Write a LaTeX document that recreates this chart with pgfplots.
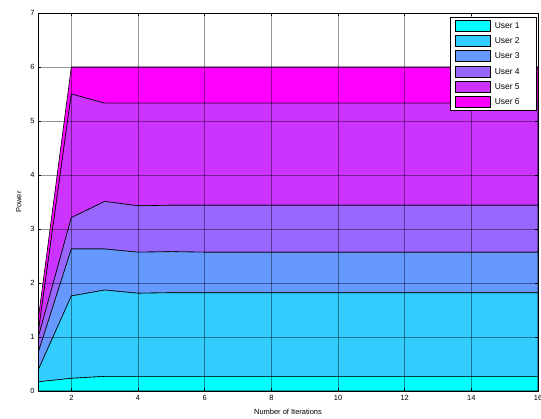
\documentclass[border=0pt]{standalone}
\usepackage{fontspec}
\setmainfont{Liberation Sans}
\usepackage{pgfplots}
\usepackage{pgfplotstable}
\pgfplotsset{compat=1.18}

\definecolor{u1}{RGB}{0,255,255}
\definecolor{u2}{RGB}{51,204,255}
\definecolor{u3}{RGB}{102,153,255}
\definecolor{u4}{RGB}{153,102,255}
\definecolor{u5}{RGB}{204,51,255}
\definecolor{u6}{RGB}{255,0,255}

% power allocated to each user per iteration (stacked)
\pgfplotstableread{
x  u1    u2    u3   u4   u5   u6
1  0.17  0.21  0.32 0.28 0.07 0.25
2  0.235 1.525 0.87 0.58 2.29 0.50
3  0.27  1.60  0.76 0.88 1.82 0.67
4  0.27  1.54  0.76 0.86 1.90 0.67
5  0.27  1.55  0.76 0.86 1.89 0.67
6  0.27  1.55  0.75 0.87 1.89 0.67
7  0.27  1.55  0.75 0.87 1.89 0.67
8  0.27  1.55  0.75 0.87 1.89 0.67
9  0.27  1.55  0.75 0.87 1.89 0.67
10 0.27  1.55  0.75 0.87 1.89 0.67
11 0.27  1.55  0.75 0.87 1.89 0.67
12 0.27  1.55  0.75 0.87 1.89 0.67
13 0.27  1.55  0.75 0.87 1.89 0.67
14 0.27  1.55  0.75 0.87 1.89 0.67
15 0.27  1.55  0.75 0.87 1.89 0.67
16 0.27  1.55  0.75 0.87 1.89 0.67
}\powertable

\begin{document}
\begin{tikzpicture}
\path[use as bounding box] (0,0) rectangle (541bp,419bp);
\begin{axis}[
  at={(38bp,28bp)}, anchor=south west,
  width=500bp, height=378bp, scale only axis,
  xmin=1, xmax=16, ymin=0, ymax=7,
  xtick={2,4,...,16}, ytick={0,1,...,7},
  stack plots=y,
  axis on top,
  grid=major,
  grid style={black, opacity=0.42, line width=0.7pt},
  tick align=inside,
  major tick length=3bp,
  tick style={black, line width=0.5pt},
  axis line style={black, line width=0.8pt},
  /pgf/number format/assume math mode=true,
  tick label style={font=\fontsize{7.5}{8}\selectfont},
  xticklabel style={yshift=-0.5bp},
  xlabel={Number of Iterations},
  ylabel={Power},
  label style={font=\fontsize{7.5}{8}\selectfont},
  xlabel style={yshift=-2bp},
  ylabel style={yshift=2bp},
  legend style={at={(1,1)}, anchor=north east, xshift=-1bp, yshift=-4bp,
    font=\fontsize{8.5}{9}\selectfont, draw=black, line width=0.6pt,
    inner xsep=5bp, inner ysep=2.5bp, row sep=3.3bp, cells={anchor=west},
    /tikz/every odd column/.append style={column sep=2bp}},
  legend image code/.code={\draw[#1, draw=black, line width=0.6pt] (0bp,-5bp) rectangle (35bp,6bp);},
  every axis plot/.append style={draw=black, line width=0.6pt},
]
\addplot[fill=u1] table[x=x, y=u1] {\powertable} \closedcycle;
\addplot[fill=u2] table[x=x, y=u2] {\powertable} \closedcycle;
\addplot[fill=u3] table[x=x, y=u3] {\powertable} \closedcycle;
\addplot[fill=u4] table[x=x, y=u4] {\powertable} \closedcycle;
\addplot[fill=u5] table[x=x, y=u5] {\powertable} \closedcycle;
\addplot[fill=u6] table[x=x, y=u6] {\powertable} \closedcycle;
\legend{User 1\hspace*{10bp}, User 2\hspace*{10bp}, User 3\hspace*{10bp}, User 4\hspace*{10bp}, User 5\hspace*{10bp}, User 6\hspace*{10bp}}
\end{axis}
\end{tikzpicture}
\end{document}
